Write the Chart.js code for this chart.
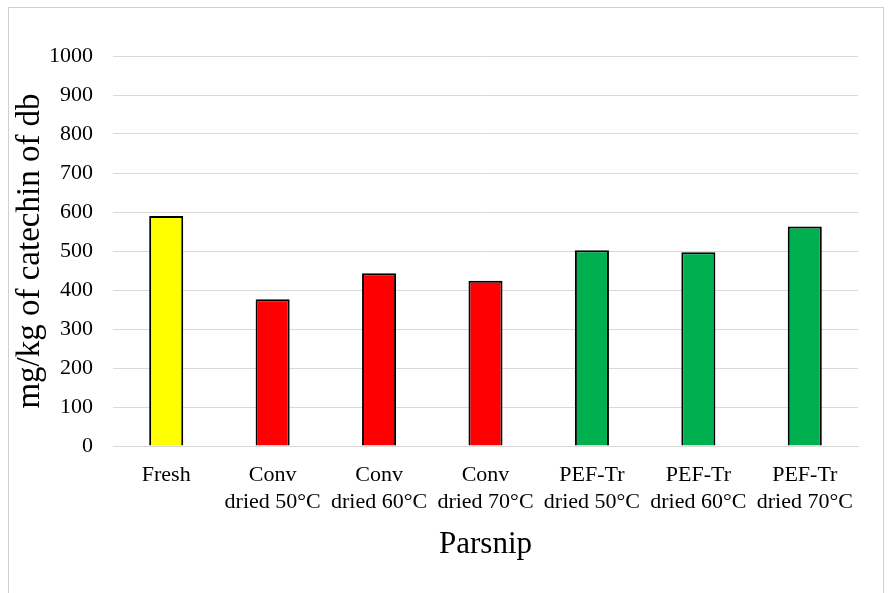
<!DOCTYPE html>
<html>
<head>
<meta charset="utf-8">
<script src="https://cdn.jsdelivr.net/npm/chart.js@4"></script>
<style>
  html, body { margin: 0; padding: 0; background: #fff; }
  #box {
    position: absolute; left: 8px; top: 7px; width: 876px; height: 590px;
    border: 1px solid #d0d0d0; box-sizing: border-box; background: #fff;
  }
  canvas { display: block; }
</style>
</head>
<body>
<div id="box"><canvas id="chart"></canvas></div>
<script>
const categories = [
  ['Fresh'],
  ['Conv', 'dried 50°C'],
  ['Conv', 'dried 60°C'],
  ['Conv', 'dried 70°C'],
  ['PEF-Tr', 'dried 50°C'],
  ['PEF-Tr', 'dried 60°C'],
  ['PEF-Tr', 'dried 70°C']
];
const catechin = [590, 376, 443, 424, 502, 497, 563];
const barColors = ['#ffff00', '#ff0000', '#ff0000', '#ff0000', '#00b050', '#00b050', '#00b050'];
const yTicks = [0, 100, 200, 300, 400, 500, 600, 700, 800, 900, 1000];

const serif = 'Liberation Serif, Times New Roman, serif';

new Chart(document.getElementById('chart'), {
  type: 'bar',
  data: {
    labels: categories,
    datasets: [{
      data: catechin,
      backgroundColor: barColors,
      borderColor: '#000',
      borderWidth: 2,
      categoryPercentage: 1,
      barPercentage: 0.32
    }]
  },
  options: {
    responsive: true,
    maintainAspectRatio: false,
    animation: false,
    layout: { padding: { top: 48, right: 25, left: 2, bottom: 33 } },
    plugins: { legend: { display: false }, tooltip: { enabled: false } },
    scales: {
      x: {
        afterFit: axis => { axis.height = 117; },
        grid: { display: false },
        border: { color: '#d9d9d9', width: 1 },
        ticks: {
          autoSkip: false, maxRotation: 0, color: '#000', padding: 7,
          font: { family: serif, size: 22, lineHeight: 1.25 }
        },
        title: {
          display: true, text: 'Parsnip', color: '#000',
          font: { family: serif, size: 31 }, padding: { top: 10, bottom: 0 }
        }
      },
      y: {
        min: 0, max: 1000,
        afterBuildTicks: axis => { axis.ticks = yTicks.map(v => ({ value: v })); },
        afterFit: axis => { axis.width = 102; },
        grid: { color: '#d9d9d9', lineWidth: 1, drawTicks: false },
        border: { display: false },
        ticks: {
          color: '#000', padding: 20,
          font: { family: serif, size: 22 },
          callback: v => String(v)
        },
        title: {
          display: true, text: 'mg/kg of catechin of db', color: '#000',
          font: { family: serif, size: 33 }, padding: 0
        }
      }
    }
  }
});
</script>
</body>
</html>
